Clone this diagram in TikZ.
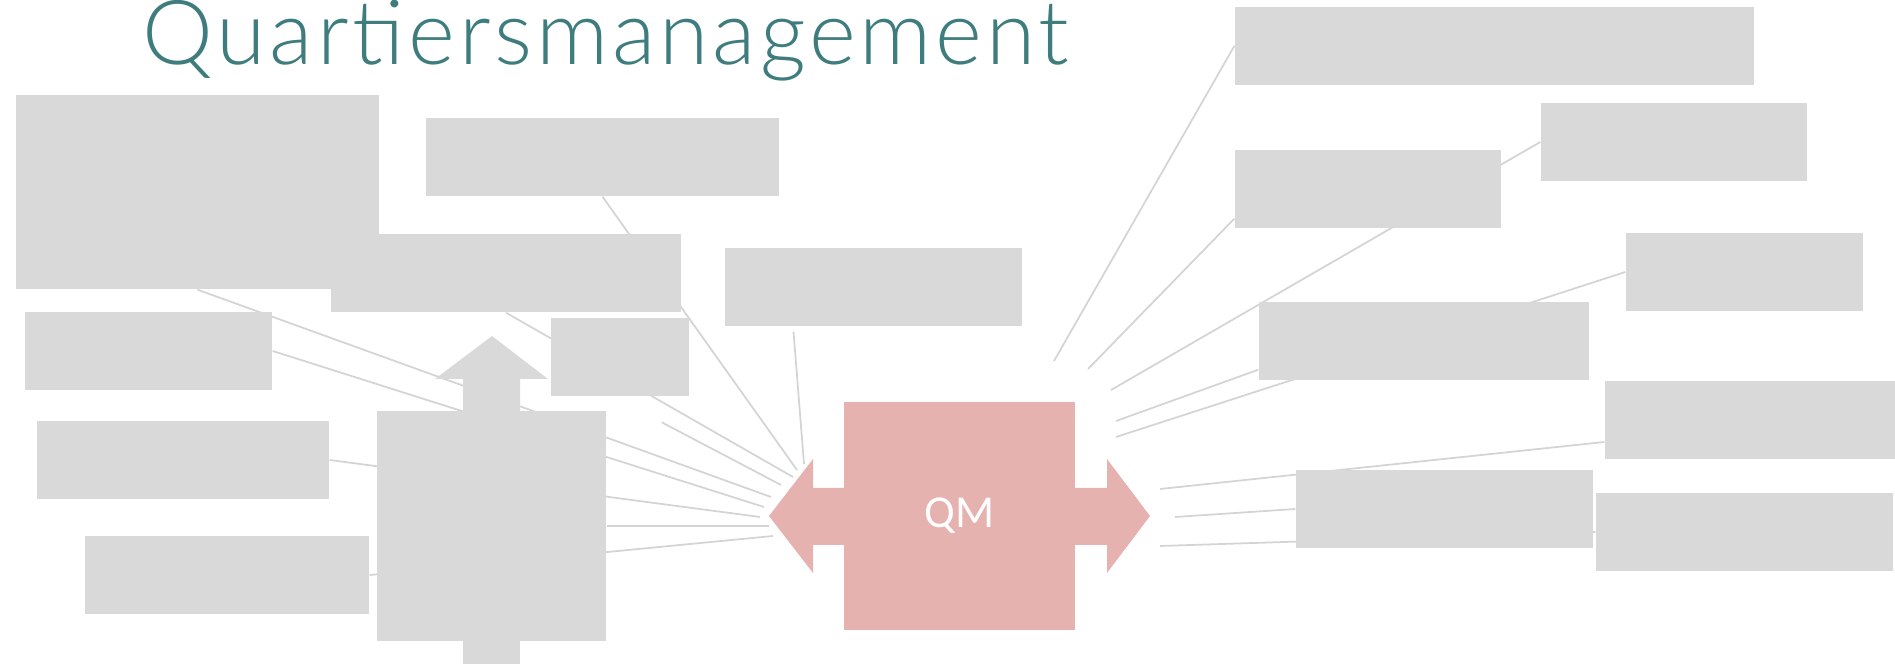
\documentclass[tikz,border=0pt]{standalone}
\usepackage{fontspec}
\setmainfont{Carlito}
\newfontfamily\titlefont[LetterSpace=4.3]{Lato Light}
\usepackage{tikz}
\usetikzlibrary{positioning}
\definecolor{boxgray}{RGB}{217,217,217}
\definecolor{linegray}{RGB}{212,212,212}
\definecolor{qmrose}{RGB}{230,178,176}
\definecolor{titleteal}{RGB}{62,124,125}
\pgfdeclarelayer{bg}
\pgfsetlayers{bg,main}

\begin{document}
\begin{tikzpicture}[x=0.1mm,y=-0.1mm]
    \useasboundingbox (0,0) rectangle (1895,664);
    \node (title) [anchor=base,inner sep=0,text=titleteal,font=\titlefont\fontsize{25.5}{27}\selectfont]
      at (606,65) {Quartiersmanagement};
    \begin{scope}[every node/.style={rectangle,fill=boxgray,inner sep=0,minimum height=7.8mm}]
      \node (b1) [minimum width=36.3mm,minimum height=19.4mm] at (197.5,192) {};
      \node (b2) [minimum width=35.3mm] at (602.5,157) {};
      \node (b3) [minimum width=35mm] at (506,273) {};
      \node (b4) [minimum width=24.7mm] at (148.5,351) {};
      \node (b5) [minimum width=13.8mm] at (620,357) {};
      \node (b6) [minimum width=29.7mm] at (873.5,287) {};
      \node (b7) [minimum width=29.2mm] at (183,460) {};
      \node (b8) [minimum width=28.4mm] at (227,575) {};
      \node (house) [minimum width=22.9mm,minimum height=23mm] at (491.5,526) {};
    \end{scope}
    % arrow on top of the house box
    \fill[boxgray] (463,411) -- (463,379) -- (435,379) -- (492,336) -- (548,379)
      -- (520,379) -- (520,411) -- cycle;
    \fill[boxgray] (463,641) rectangle (520,664);
    % QM with arrows both ways
    \fill[qmrose] (844,488) -- (813,488) -- (813,459) -- (769,516) -- (813,573)
      -- (813,545) -- (844,545) -- cycle;
    \fill[qmrose] (1075,488) -- (1107,488) -- (1107,459) -- (1150,516) -- (1107,573)
      -- (1107,545) -- (1075,545) -- cycle;
    \node (qm) [fill=qmrose,inner sep=0,minimum width=23.1mm,minimum height=22.8mm,
      text=white,font=\fontsize{13}{15}\selectfont] at (959.5,516) {QM};
    \begin{scope}[every node/.style={rectangle,fill=boxgray,inner sep=0,minimum height=7.8mm}]
      \node (r1) [minimum width=51.9mm] at (1494.5,46) {};
      \node (r2) [minimum width=26.6mm] at (1674,142) {};
      \node (r3) [minimum width=26.6mm] at (1368,189) {};
      \node (r4) [minimum width=23.7mm] at (1744.5,272) {};
      \node (r5) [minimum width=33mm] at (1424,341) {};
      \node (r6) [minimum width=29mm] at (1750,420) {};
      \node (r7) [minimum width=29.7mm] at (1444.5,509) {};
      \node (r8) [minimum width=29.7mm] at (1744.5,532) {};
    \end{scope}
    % free ends next to the arrow tips
    \coordinate (l1) at (797,470);
    \coordinate (l2) at (804,464);
    \coordinate (l3) at (793,477);
    \coordinate (l4) at (781,485);
    \coordinate (l5) at (771,497);
    \coordinate (l6) at (764,507);
    \coordinate (l7) at (760,517);
    \coordinate (l8) at (769,526);
    \coordinate (l9) at (773,536);
    \coordinate (q1) at (1054,361);
    \coordinate (q2) at (1088,369);
    \coordinate (q3) at (1111,390);
    \coordinate (q4) at (1116,421);
    \coordinate (q5) at (1116,437);
    \coordinate (q6) at (1160,489);
    \coordinate (q7) at (1175,517);
    \coordinate (q8) at (1160,546);
    \begin{pgfonlayer}{bg}
    \begin{scope}[color=linegray,line width=0.5pt]
      \path (b2.south) edge (l1);
      \path ([xshift=-8mm,yshift=-0.5mm]b6.south) edge (l2);
      \path (b3.south) edge (l3);
      \path ([xshift=-0.7mm]b5.south) edge [shorten <=5.5mm] (l4);
      \path (b1.south) edge (l5);
      \path (b4.east) edge (l6);
      \path (b7.east) edge (l7);
      \path (house.east) edge (l8);
      \path (b8.east) edge (l9);
      \path (q1) edge (r1.west);
      \path (q2) edge ([yshift=1mm]r3.south west);
      \path (q3) edge (r2.west);
      \path (q4) edge ([yshift=1.1mm]r5.south west);
      \path (q5) edge (r4.west);
      \path (q6) edge ([yshift=-2.2mm]r6.west);
      \path (q7) edge (r7.west);
      \path (q8) edge (r8.west);
    \end{scope}
    \end{pgfonlayer}
  \end{tikzpicture}
\end{document}
